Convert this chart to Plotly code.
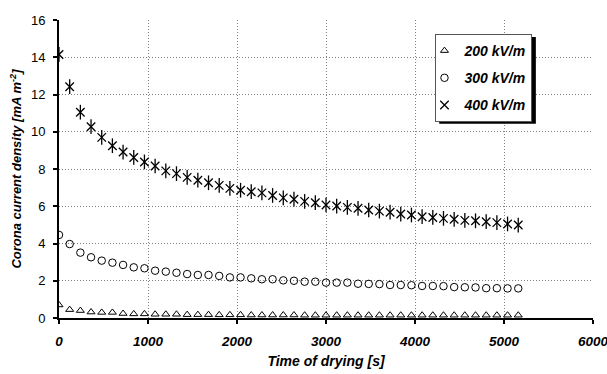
import plotly.graph_objects as go

time_s = [i * 120 for i in range(44)]
j200 = [0.70, 0.45, 0.40, 0.32, 0.30, 0.30, 0.24, 0.22, 0.22, 0.20,
        0.20, 0.20, 0.18, 0.18, 0.18, 0.17, 0.17, 0.17, 0.16, 0.16,
        0.16, 0.16, 0.16, 0.15, 0.15, 0.15, 0.15, 0.15, 0.15, 0.15,
        0.15, 0.15, 0.15, 0.15, 0.15, 0.15, 0.15, 0.15, 0.15, 0.15,
        0.15, 0.15, 0.15, 0.15]
j300 = [4.46, 3.97, 3.51, 3.26, 3.08, 2.97, 2.85, 2.72, 2.67, 2.54,
        2.49, 2.43, 2.36, 2.31, 2.31, 2.26, 2.18, 2.18, 2.13, 2.08,
        2.08, 2.02, 2.00, 1.95, 1.95, 1.90, 1.90, 1.90, 1.84, 1.83,
        1.82, 1.77, 1.77, 1.76, 1.72, 1.72, 1.71, 1.66, 1.65, 1.64,
        1.60, 1.60, 1.59, 1.59]
j400 = [14.15, 12.42, 11.05, 10.27, 9.70, 9.25, 8.91, 8.62, 8.38, 8.16,
        7.90, 7.75, 7.55, 7.40, 7.26, 7.12, 6.96, 6.86, 6.78, 6.72,
        6.58, 6.45, 6.38, 6.26, 6.19, 6.07, 6.01, 5.94, 5.89, 5.80,
        5.74, 5.68, 5.58, 5.53, 5.44, 5.40, 5.35, 5.30, 5.24, 5.22,
        5.17, 5.12, 5.05, 4.99]
names = ["200 kV/m", "300 kV/m", "400 kV/m"]

FONT = "Arial, Liberation Sans, sans-serif"

fig = go.Figure()
fig.add_trace(go.Scatter(x=time_s, y=j200, mode="markers",
                         name="<b><i>" + names[0] + "</i></b>",
                         legendgroup="a",
                         marker=dict(symbol="triangle-up-open", size=7,
                                     color="black", line=dict(width=1))))
fig.add_trace(go.Scatter(x=time_s, y=j300, mode="markers",
                         name="<b><i>" + names[1] + "</i></b>",
                         legendgroup="b",
                         marker=dict(symbol="circle-open", size=7.5,
                                     color="black", line=dict(width=1))))
fig.add_trace(go.Scatter(x=time_s, y=j400, mode="markers",
                         name="<b><i>" + names[2] + "</i></b>",
                         legendgroup="c",
                         marker=dict(symbol="x-thin-open", size=8.5,
                                     color="black", line=dict(width=1.3))))
fig.add_trace(go.Scatter(x=time_s, y=j400, mode="markers", showlegend=False,
                         legendgroup="c", hoverinfo="skip",
                         marker=dict(symbol="line-ns-open", size=10.5,
                                     color="black", line=dict(width=1.3))))

fig.add_shape(type="rect", xref="paper", yref="paper",
              x0=0.712, x1=0.893, y0=0.652, y1=0.943,
              fillcolor="black", line=dict(width=0), layer="above")

GRID = dict(showgrid=True, gridcolor="#808080", griddash="1px,2px", gridwidth=1,
            showline=True, linecolor="black", linewidth=2,
            ticks="outside", ticklen=4, tickwidth=2, tickcolor="black",
            zeroline=False, ticklabeloverflow="allow", automargin=False)

fig.update_layout(
    width=607, height=374,
    margin=dict(l=59, r=14, t=20, b=56, autoexpand=False),
    paper_bgcolor="white", plot_bgcolor="white",
    font=dict(family=FONT, size=12, color="black"),
    showlegend=True,
    legend=dict(x=0.705, y=0.953, xanchor="left", yanchor="top",
                bgcolor="white", bordercolor="#555", borderwidth=1,
                font=dict(family=FONT, size=14, color="black"),
                tracegroupgap=6, itemwidth=30, indentation=-12,
                entrywidth=75, entrywidthmode="pixels"),
    xaxis=dict(range=[0, 6000], dtick=1000, tick0=0, **GRID,
               ticklabelstandoff=6,
               tickfont=dict(family=FONT, size=13.5, color="black",
                             weight="bold", style="italic"),
               title=dict(text="<b><i>Time of drying [s]</i></b>",
                          font=dict(family=FONT, size=14, color="black"),
                          standoff=8)),
    yaxis=dict(range=[0, 16], dtick=2, tick0=0, **GRID,
               ticklabelstandoff=5,
               tickfont=dict(family=FONT, size=13, color="black"),
               title=dict(text="<b><i>Corona current density [mA m<sup>-2</sup>]</i></b>",
                          font=dict(family=FONT, size=13, color="black"),
                          standoff=6)),
)

fig.write_html("out.html")
